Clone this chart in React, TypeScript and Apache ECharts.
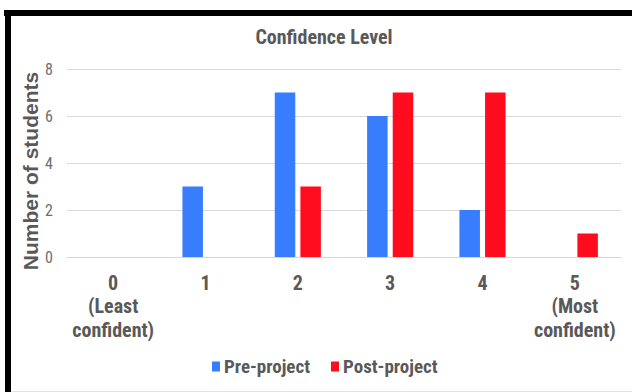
import React, { useEffect, useRef } from "react";
import * as echarts from "echarts";

// Confidence level buckets (0 = least confident, 5 = most confident)
const categories = [
  "0\n(Least\nconfident)",
  "1",
  "2",
  "3",
  "4",
  "5\n(Most\nconfident)",
];
const preProject = [0, 3, 7, 6, 2, 0];
const postProject = [0, 0, 3, 7, 7, 1];
const yTicks = { min: 0, max: 8, interval: 2 };

const NARROW = "'Roboto Condensed', 'Roboto', sans-serif";
const WIDE = "'Liberation Sans', Arial, sans-serif";

export default function App() {
  const ref = useRef<HTMLDivElement>(null);

  useEffect(() => {
    if (!ref.current) return;
    const chart = echarts.init(ref.current, null, { renderer: "svg" });
    chart.setOption({
      animation: false,
      backgroundColor: "#ffffff",
      title: {
        text: "Confidence Level",
        left: 319,
        textAlign: "center",
        top: 22,
        textStyle: {
          fontFamily: NARROW,
          fontSize: 20,
          fontWeight: "bold",
          color: "#595959",
        },
      },
      legend: {
        data: ["Pre-project", "Post-project"],
        left: 207,
        top: 352,
        icon: "rect",
        itemWidth: 8,
        itemHeight: 10,
        itemGap: 21,
        textStyle: {
          fontFamily: NARROW,
          fontSize: 19,
          fontWeight: "bold",
          color: "#595959",
          padding: [0, 0, 0, -1],
        },
      },
      grid: { left: 67, right: 11, top: 69, bottom: 135, containLabel: false },
      xAxis: {
        type: "category",
        data: categories,
        axisLine: { lineStyle: { color: "#d6d6d6", width: 1 } },
        axisTick: { show: false },
        axisLabel: {
          interval: 0,
          margin: 14,
          lineHeight: 23.5,
          fontFamily: NARROW,
          fontSize: 20,
          fontWeight: "bold",
          color: "#595959",
        },
      },
      yAxis: {
        type: "value",
        min: yTicks.min,
        max: yTicks.max,
        interval: yTicks.interval,
        name: "Number of students",
        nameLocation: "middle",
        nameRotate: 90,
        nameGap: 26,
        nameMoveOverlap: false,
        nameTextStyle: {
          fontFamily: WIDE,
          fontSize: 21,
          fontWeight: "bold",
          color: "#595959",
          padding: [0, 16, 0, 0],
        },
        axisLine: { show: false },
        axisTick: { show: false },
        axisLabel: {
          margin: 14,
          fontFamily: NARROW,
          fontSize: 16,
          color: "#6e6e6e",
        },
        splitLine: { lineStyle: { color: "#d9d9d9", width: 1.2 } },
      },
      series: [
        {
          name: "Pre-project",
          type: "bar",
          data: preProject,
          barWidth: 20.5,
          barGap: "25%",
          itemStyle: { color: "#377dfd" },
        },
        {
          name: "Post-project",
          type: "bar",
          data: postProject,
          barWidth: 20.5,
          itemStyle: { color: "#ff0d1f" },
        },
      ],
      graphic: [
        // black frame along the top and left edges
        {
          type: "rect",
          shape: { x: 4, y: 10, width: 628, height: 6 },
          style: { fill: "#000000" },
          silent: true,
        },
        {
          type: "rect",
          shape: { x: 5, y: 10, width: 6, height: 382 },
          style: { fill: "#000000" },
          silent: true,
        },
        {
          type: "line",
          shape: { x1: 11, y1: 391.5, x2: 632, y2: 391.5 },
          style: { stroke: "#e2e2e2", lineWidth: 1 },
          silent: true,
        },
      ],
    });
    return () => chart.dispose();
  }, []);

  return (
    <div
      ref={ref}
      style={{ position: "fixed", left: 0, top: 0, width: 632, height: 392 }}
    />
  );
}
